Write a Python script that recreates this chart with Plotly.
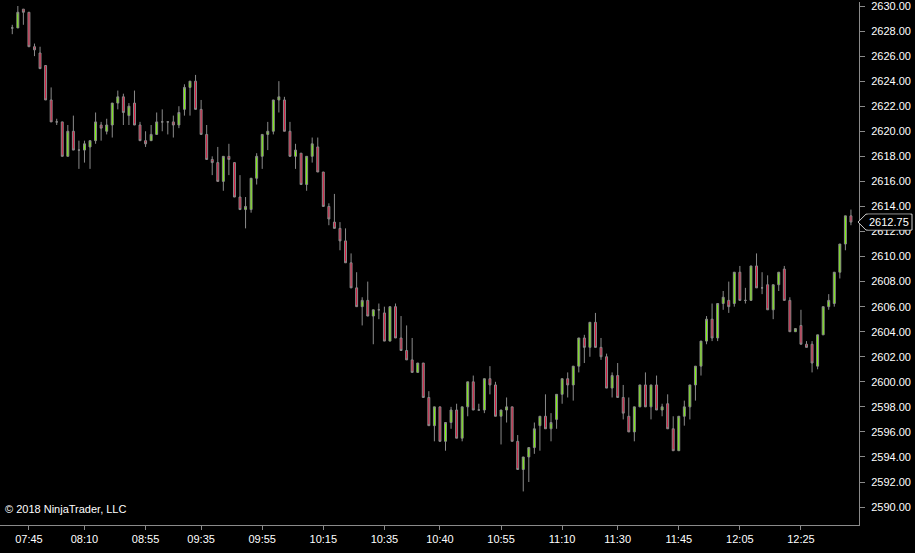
import plotly.graph_objects as go

# OHLC values (bar index = position)
opens = [2628.25, 2628.25, 2629.75, 2629.5, 2626.75, 2626.25, 2625.25, 2622.5, 2620.75, 2620.75,
         2618.0, 2620.0, 2618.5, 2618.5, 2618.75, 2619.25, 2620.5, 2620.0, 2620.5, 2622.25,
         2622.75, 2621.25, 2622.25, 2620.5, 2619.25, 2619.25, 2619.75, 2620.75, 2620.75, 2620.75,
         2620.5, 2621.75, 2623.5, 2624.0, 2621.75, 2619.75, 2617.75, 2617.5, 2616.0, 2618.0,
         2617.5, 2614.75, 2613.75, 2613.75, 2616.25, 2618.0, 2619.75, 2620.0, 2622.5, 2622.5,
         2620.0, 2618.0, 2618.25, 2615.75, 2618.0, 2618.75, 2616.75, 2614.0, 2612.75, 2612.25,
         2611.25, 2609.5, 2607.5, 2606.0, 2606.5, 2605.25, 2605.75, 2605.5, 2603.25, 2606.0,
         2603.5, 2602.5, 2601.75, 2600.75, 2601.5, 2598.75, 2596.5, 2598.0, 2595.25, 2596.75,
         2597.75, 2595.5, 2598.0, 2600.0, 2597.75, 2597.75, 2600.25, 2599.75, 2597.25, 2597.75,
         2598.0, 2595.25, 2593.0, 2594.0, 2594.75, 2596.5, 2597.25, 2596.25, 2597.0, 2599.0,
         2600.25, 2599.75, 2601.25, 2603.5, 2602.75, 2604.75, 2602.75, 2602.0, 2599.5, 2600.5,
         2598.75, 2597.25, 2596.0, 2598.0, 2599.75, 2598.0, 2599.75, 2597.75, 2598.25, 2596.25,
         2594.5, 2597.25, 2598.0, 2599.75, 2601.25, 2603.25, 2605.0, 2603.5, 2606.25, 2606.5,
         2606.25, 2608.75, 2606.5, 2606.5, 2609.25, 2607.5, 2607.75, 2605.75, 2607.75, 2609.0,
         2606.5, 2604.0, 2604.5, 2603.0, 2603.0, 2601.25, 2603.75, 2606.0, 2606.25, 2608.75,
         2611.0, 2613.25]
highs = [2628.5, 2630.0, 2629.75, 2629.5, 2627.0, 2626.75, 2625.25, 2623.5, 2621.0, 2620.75,
         2620.5, 2621.25, 2619.25, 2619.25, 2619.25, 2621.5, 2620.75, 2621.0, 2622.25, 2623.25,
         2623.0, 2622.25, 2623.25, 2620.75, 2620.0, 2620.5, 2621.5, 2621.75, 2620.75, 2621.25,
         2622.0, 2623.75, 2624.0, 2624.5, 2622.5, 2620.5, 2618.0, 2618.75, 2618.0, 2619.0,
         2617.5, 2616.5, 2614.75, 2616.25, 2618.25, 2619.75, 2620.75, 2622.5, 2624.0, 2622.75,
         2620.75, 2619.0, 2618.25, 2618.0, 2619.5, 2619.5, 2616.75, 2614.25, 2615.0, 2612.75,
         2612.25, 2610.25, 2608.75, 2606.75, 2608.0, 2605.75, 2606.25, 2606.0, 2606.0, 2606.25,
         2605.25, 2604.5, 2603.5, 2601.5, 2601.5, 2599.25, 2598.0, 2598.0, 2596.75, 2598.0,
         2598.25, 2598.0, 2600.0, 2600.5, 2598.25, 2600.25, 2601.25, 2600.0, 2597.75, 2598.75,
         2598.0, 2595.75, 2594.0, 2594.75, 2596.75, 2597.25, 2599.0, 2597.5, 2599.0, 2600.25,
         2600.75, 2601.25, 2603.5, 2603.75, 2604.75, 2605.5, 2603.5, 2602.25, 2600.75, 2601.5,
         2599.75, 2598.75, 2598.0, 2599.75, 2600.75, 2599.75, 2600.5, 2598.25, 2599.0, 2597.25,
         2597.25, 2598.5, 2599.75, 2601.25, 2603.25, 2605.25, 2606.25, 2606.25, 2607.25, 2608.0,
         2608.75, 2609.25, 2607.5, 2609.25, 2610.25, 2608.75, 2608.5, 2607.75, 2608.75, 2609.25,
         2606.75, 2604.25, 2605.75, 2603.25, 2603.25, 2603.75, 2606.0, 2607.0, 2608.75, 2611.0,
         2613.25, 2613.75]
lows = [2627.75, 2628.25, 2628.5, 2626.75, 2626.0, 2625.0, 2622.5, 2620.75, 2620.5, 2618.0,
        2618.0, 2618.5, 2617.0, 2617.5, 2617.0, 2619.0, 2619.25, 2619.75, 2619.5, 2621.75,
        2620.5, 2620.5, 2620.5, 2619.25, 2618.75, 2619.25, 2619.75, 2620.0, 2619.75, 2619.5,
        2620.25, 2621.25, 2621.25, 2621.75, 2619.75, 2617.75, 2616.5, 2616.0, 2615.25, 2616.5,
        2614.75, 2613.75, 2612.25, 2613.5, 2615.75, 2617.0, 2618.5, 2619.75, 2621.5, 2620.0,
        2618.0, 2617.0, 2615.75, 2615.25, 2617.5, 2616.75, 2614.0, 2612.5, 2612.25, 2610.5,
        2609.5, 2607.5, 2606.0, 2604.5, 2605.25, 2603.0, 2605.0, 2603.25, 2603.25, 2603.5,
        2602.5, 2601.75, 2600.75, 2600.75, 2598.75, 2596.5, 2595.25, 2595.25, 2594.5, 2596.25,
        2595.5, 2595.25, 2597.25, 2597.75, 2597.75, 2597.5, 2599.0, 2597.25, 2595.0, 2596.75,
        2595.25, 2593.0, 2591.25, 2592.0, 2594.25, 2594.5, 2596.25, 2595.25, 2596.25, 2598.25,
        2598.75, 2598.5, 2600.75, 2601.5, 2602.0, 2602.75, 2601.75, 2599.5, 2598.75, 2598.75,
        2597.0, 2596.0, 2595.25, 2598.0, 2598.0, 2597.0, 2597.75, 2597.25, 2596.25, 2594.5,
        2594.5, 2596.5, 2597.0, 2598.5, 2600.5, 2603.0, 2603.25, 2603.25, 2605.75, 2605.5,
        2606.0, 2606.5, 2606.25, 2606.5, 2607.5, 2607.0, 2605.75, 2605.0, 2607.25, 2606.5,
        2604.0, 2604.0, 2603.0, 2602.75, 2600.75, 2601.0, 2603.75, 2605.75, 2606.0, 2608.25,
        2610.5, 2612.5]
closes = [2628.25, 2629.5, 2629.5, 2626.75, 2626.5, 2625.0, 2622.5, 2620.75, 2620.75, 2618.0,
          2620.0, 2618.5, 2618.5, 2619.0, 2619.25, 2620.75, 2620.25, 2620.5, 2622.25, 2622.75,
          2621.5, 2622.0, 2620.5, 2619.25, 2619.0, 2619.75, 2620.75, 2620.75, 2620.75, 2620.5,
          2621.5, 2623.5, 2624.0, 2621.75, 2619.75, 2617.75, 2617.5, 2616.0, 2618.0, 2617.75,
          2614.75, 2613.75, 2614.0, 2616.25, 2618.0, 2619.75, 2620.0, 2622.5, 2622.75, 2620.0,
          2618.0, 2618.5, 2615.75, 2618.0, 2619.0, 2616.75, 2614.0, 2613.0, 2612.25, 2611.25,
          2609.5, 2607.5, 2606.0, 2606.5, 2605.25, 2605.75, 2605.75, 2603.25, 2606.0, 2603.5,
          2602.5, 2601.75, 2600.75, 2601.5, 2598.75, 2596.5, 2598.0, 2595.25, 2596.75, 2597.75,
          2595.5, 2598.0, 2600.0, 2597.75, 2597.75, 2600.25, 2599.75, 2597.25, 2597.75, 2598.0,
          2595.25, 2593.0, 2594.0, 2594.75, 2596.25, 2597.25, 2596.25, 2596.75, 2599.0, 2600.25,
          2599.75, 2601.25, 2603.5, 2602.75, 2604.75, 2602.75, 2602.0, 2599.5, 2600.5, 2598.75,
          2597.5, 2596.0, 2598.0, 2599.75, 2598.0, 2599.75, 2597.75, 2598.0, 2596.25, 2594.5,
          2597.25, 2598.0, 2599.75, 2601.25, 2603.25, 2605.0, 2603.5, 2606.25, 2606.75, 2606.0,
          2608.75, 2606.5, 2606.5, 2609.25, 2607.5, 2607.5, 2605.75, 2607.75, 2608.75, 2606.5,
          2604.0, 2604.25, 2603.0, 2602.75, 2601.5, 2603.75, 2606.0, 2606.5, 2608.75, 2611.0,
          2613.25, 2612.75]

time_tick_bars = [3, 13, 24, 34, 45, 56, 67, 77, 88, 99, 109, 120, 131, 142]
time_tick_labels = ["07:45", "08:10", "08:55", "09:35", "09:55", "10:15", "10:35",
                    "10:40", "10:55", "11:10", "11:30", "11:45", "12:05", "12:25"]

price_ticks = [2590 + 2 * k for k in range(21)]

bars = list(range(len(closes)))

GREEN = "#7CFC00"
RED = "#DC143C"
GRAY = "#8a8a8a"
FONT = "Liberation Sans, Arial, sans-serif"

fig = go.Figure(go.Candlestick(
    x=bars, open=opens, high=highs, low=lows, close=closes,
    increasing=dict(fillcolor=GREEN, line=dict(color=GRAY, width=1)),
    decreasing=dict(fillcolor=RED, line=dict(color=GRAY, width=1)),
    whiskerwidth=0, showlegend=False, hoverinfo="skip",
))

last = closes[-1]
W = 859.0  # plot width in px used for paper-fraction conversion
half = 8 / 12.575
fig.add_shape(type="path", xref="paper", yref="y",
              path=(f"M {858/W},{last} L {866/W},{last+half} L {912/W},{last+half} "
                    f"L {912/W},{last-half} L {866/W},{last-half} Z"),
              line=dict(color="#d0d0d0", width=1), fillcolor="black", layer="above")
fig.add_annotation(xref="paper", yref="y", x=889/W, y=last, text=f"{last:.2f}",
                   showarrow=False, font=dict(color="white", size=11, family=FONT),
                   xanchor="center", yanchor="middle", bgcolor="black")
fig.add_annotation(xref="paper", yref="paper", x=0.003, y=0, yshift=8,
                   text="© 2018 NinjaTrader, LLC", showarrow=False,
                   xanchor="left", yanchor="bottom",
                   font=dict(color="white", size=11, family=FONT))

fig.update_layout(
    width=915, height=553,
    margin=dict(l=0, r=56, t=0, b=28),
    paper_bgcolor="black", plot_bgcolor="black",
    boxgap=0.5,
    font=dict(family=FONT, color="white", size=11),
    xaxis=dict(
        range=[-2.21, 152.45], rangeslider=dict(visible=False),
        tickvals=time_tick_bars, ticktext=time_tick_labels,
        showgrid=False, zeroline=False, showline=True, linecolor=GRAY,
        ticks="outside", ticklen=4, tickcolor=GRAY,
        tickfont=dict(color="white", size=11, family=FONT),
    ),
    yaxis=dict(
        side="right", range=[2588.57, 2630.32],
        tickvals=price_ticks, tickformat=".2f",
        showgrid=False, zeroline=False, showline=True, linecolor=GRAY,
        ticks="outside", ticklen=5, tickcolor=GRAY, ticklabelstandoff=4,
        ticklabeloverflow="allow",
        tickfont=dict(color="white", size=11, family=FONT),
    ),
)

fig.write_html("out.html", config={"displayModeBar": False},
               post_script="document.body.style.margin='0';document.body.style.background='black';")
